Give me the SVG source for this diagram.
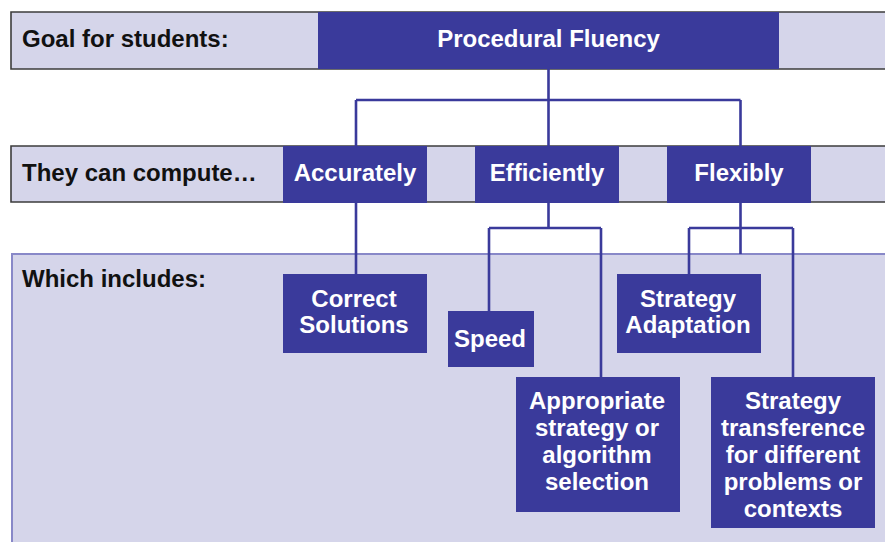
<svg xmlns="http://www.w3.org/2000/svg" width="885" height="542" viewBox="0 0 885 542">
<style>
.band{fill:#d5d5ea}
.bandline{fill:none;stroke:#3c3c3c;stroke-width:1.6}
.band3line{fill:none;stroke:#8888c8;stroke-width:2}
.box{fill:#3a3a9b}
.lbl{font-family:"Liberation Sans",Arial,sans-serif;font-weight:700;font-size:24px;fill:#111}
.t{font-family:"Liberation Sans",Arial,sans-serif;font-weight:700;font-size:24px;fill:#ffffff;text-anchor:middle}
.conn{fill:none;stroke:#3a3a9b;stroke-width:2.6}
</style>
<rect width="885" height="542" fill="#ffffff"/>
<g id="band1">
<rect class="band" x="11" y="12" width="874" height="57"/>
<path class="bandline" d="M885 12 H11 V69 H885"/>
<text class="lbl" x="22" y="47">Goal for students:</text>
</g>
<g id="band2">
<rect class="band" x="11" y="146" width="874" height="56"/>
<path class="bandline" d="M885 146 H11 V202 H885"/>
<text class="lbl" x="22" y="181">They can compute…</text>
</g>
<g id="band3">
<rect class="band" x="12" y="254" width="873" height="288"/>
<path class="band3line" d="M885 254 H12 V542"/>
<text class="lbl" x="22" y="287">Which includes:</text>
</g>
<g id="connectors">
<path class="conn" d="M548.5 69 V100 M356 100 H740.5 M356 100 V146 M548.5 100 V146 M740.5 100 V146"/>
<path class="conn" d="M356 203 V274"/>
<path class="conn" d="M548.5 203 V228 M489 228 H601 M489 228 V311 M601 228 V377"/>
<path class="conn" d="M740.5 203 V254 M689 228 H793 M689 228 V274 M793 228 V377"/>
</g>
<g id="procedural-fluency">
<rect class="box" x="318" y="12" width="461" height="57"/>
<text class="t" x="548.5" y="47">Procedural Fluency</text>
</g>
<g id="accurately">
<rect class="box" x="283" y="146" width="144" height="57"/>
<text class="t" x="355" y="181">Accurately</text>
</g>
<g id="efficiently">
<rect class="box" x="475" y="146" width="144" height="57"/>
<text class="t" x="547" y="181">Efficiently</text>
</g>
<g id="flexibly">
<rect class="box" x="667" y="146" width="144" height="57"/>
<text class="t" x="739" y="181">Flexibly</text>
</g>
<g id="correct-solutions">
<rect class="box" x="283" y="274" width="144" height="79"/>
<text class="t" x="354" y="307">Correct</text>
<text class="t" x="354" y="333">Solutions</text>
</g>
<g id="speed">
<rect class="box" x="448" y="311" width="86" height="56"/>
<text class="t" x="490" y="347">Speed</text>
</g>
<g id="appropriate-strategy">
<rect class="box" x="516" y="377" width="164" height="135"/>
<text class="t" x="597" y="409">Appropriate</text>
<text class="t" x="597" y="436">strategy or</text>
<text class="t" x="597" y="463">algorithm</text>
<text class="t" x="597" y="490">selection</text>
</g>
<g id="strategy-adaptation">
<rect class="box" x="617" y="274" width="144" height="79"/>
<text class="t" x="688" y="307">Strategy</text>
<text class="t" x="688" y="333">Adaptation</text>
</g>
<g id="strategy-transference">
<rect class="box" x="711" y="377" width="164" height="151"/>
<text class="t" x="793" y="409">Strategy</text>
<text class="t" x="793" y="436">transference</text>
<text class="t" x="793" y="463">for different</text>
<text class="t" x="793" y="490">problems or</text>
<text class="t" x="793" y="517">contexts</text>
</g>
</svg>
